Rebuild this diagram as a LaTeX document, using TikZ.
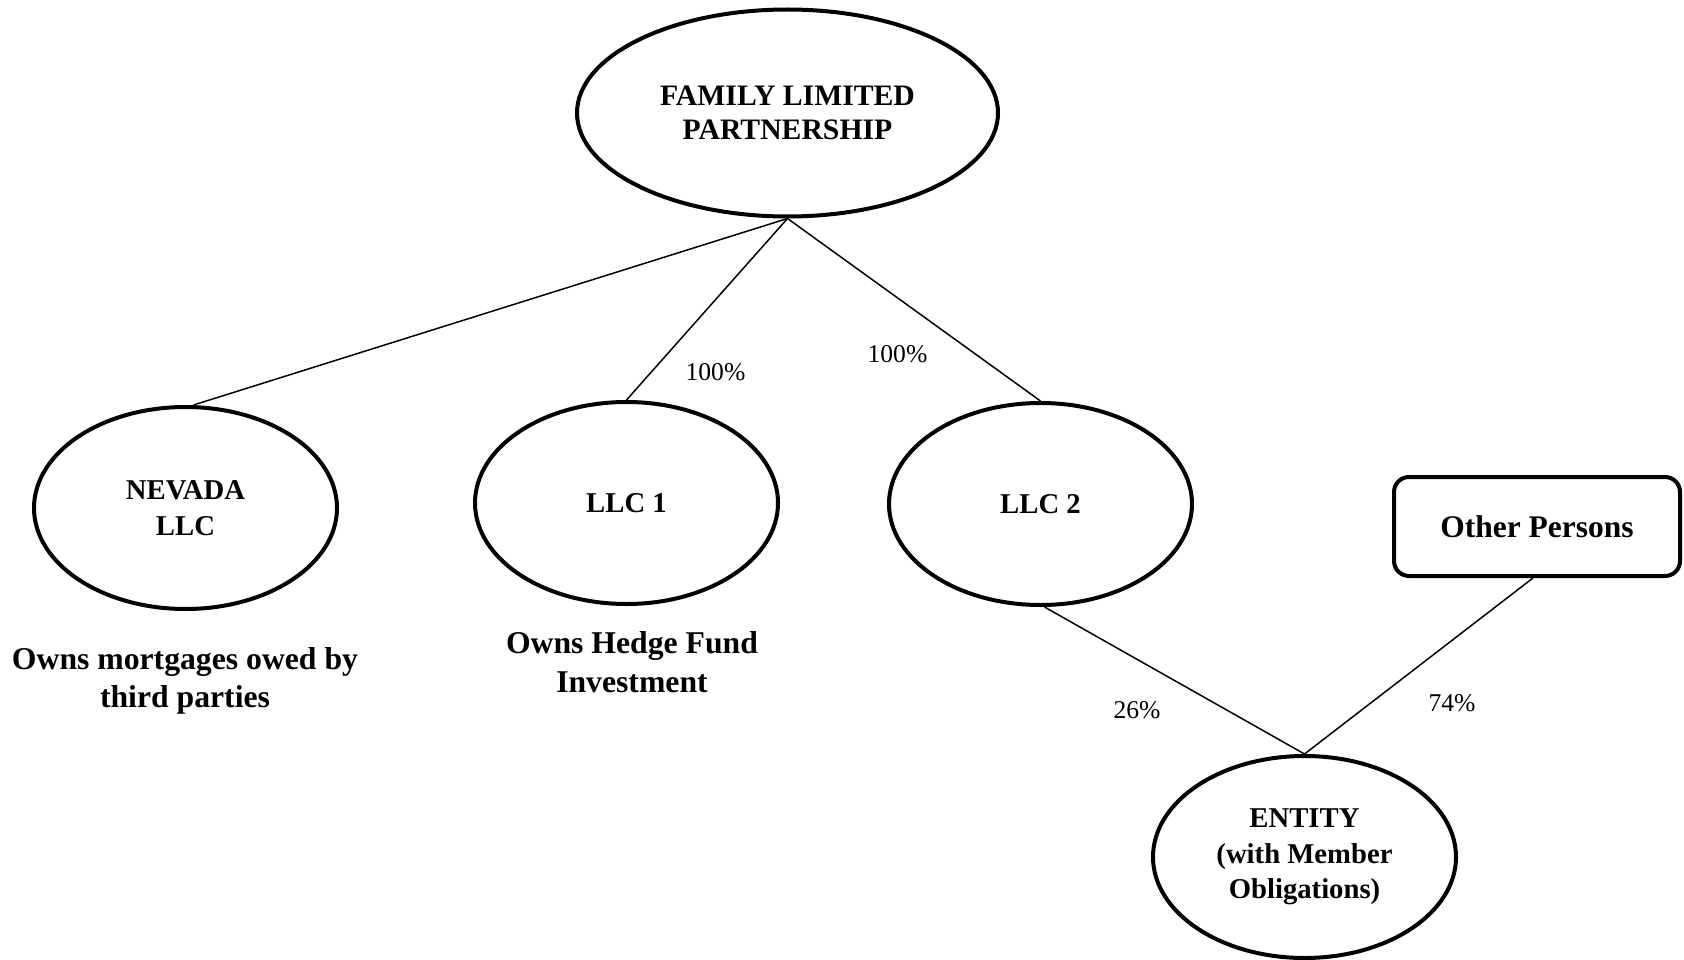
\documentclass[tikz,border=0pt]{standalone}
\usepackage{fontspec}
\setmainfont{Liberation Serif}
\usetikzlibrary{shapes.geometric}
\begin{document}
\begin{tikzpicture}[x=1pt,y=-1pt,
  orgunit/.style={ellipse,draw,line width=4pt,inner sep=0pt,align=center,
    minimum width=303pt,minimum height=202pt,
    font=\fontsize{28.7}{35.5}\selectfont\bfseries},
  partybox/.style={rectangle,rounded corners=15pt,draw,line width=4pt,
    inner sep=0pt,align=center,minimum width=286pt,minimum height=99pt,
    font=\fontsize{31.5}{37}\selectfont\bfseries},
  holding/.style={align=center,inner sep=0pt,
    font=\fontsize{31.7}{38.5}\selectfont\bfseries},
  share/.style={inner sep=0pt,font=\fontsize{25.6}{30}\selectfont},
  link/.style={line width=1.5pt}]
\useasboundingbox (0,0) rectangle (1684,960);

% ownership entities
\node[orgunit,minimum width=421pt,minimum height=207pt,
  font=\fontsize{29.7}{34.5}\selectfont\bfseries] (flp) at (787.5,113)
  {FAMILY LIMITED\\PARTNERSHIP};
\node[orgunit] (nev) at (185.5,508) {NEVADA\\LLC};
\node[orgunit] (llc1) at (626.5,503) {LLC 1};
\node[orgunit] (llc2) at (1040.5,504) {LLC 2};
\node[partybox] (oth) at (1537,526.5) {Other Persons};
\node[orgunit] (ent) at (1304.5,857) {ENTITY\\(with Member\\Obligations)};

% what each LLC holds
\node[holding] (nevnote) at (185,681) {Owns mortgages owed by\\third parties};
\node[holding] (llc1note) at (632,662) {Owns Hedge Fund\\Investment};

% ownership links
\draw[link] (flp.south) -- ([xshift=8pt]nev.north);
\draw[link] (flp.south) -- (llc1.north);
\draw[link] (flp.south) -- (llc2.north);
\draw[link] ([xshift=4pt]llc2.south) -- (ent.north);
\draw[link] ([xshift=-4pt]oth.south) -- (ent.north);

% ownership percentages
\node[share] (p1) at (715.5,372) {100\%};
\node[share] (p2) at (897.5,354) {100\%};
\node[share] (p3) at (1137,710) {26\%};
\node[share] (p4) at (1452,703) {74\%};
\end{tikzpicture}
\end{document}
